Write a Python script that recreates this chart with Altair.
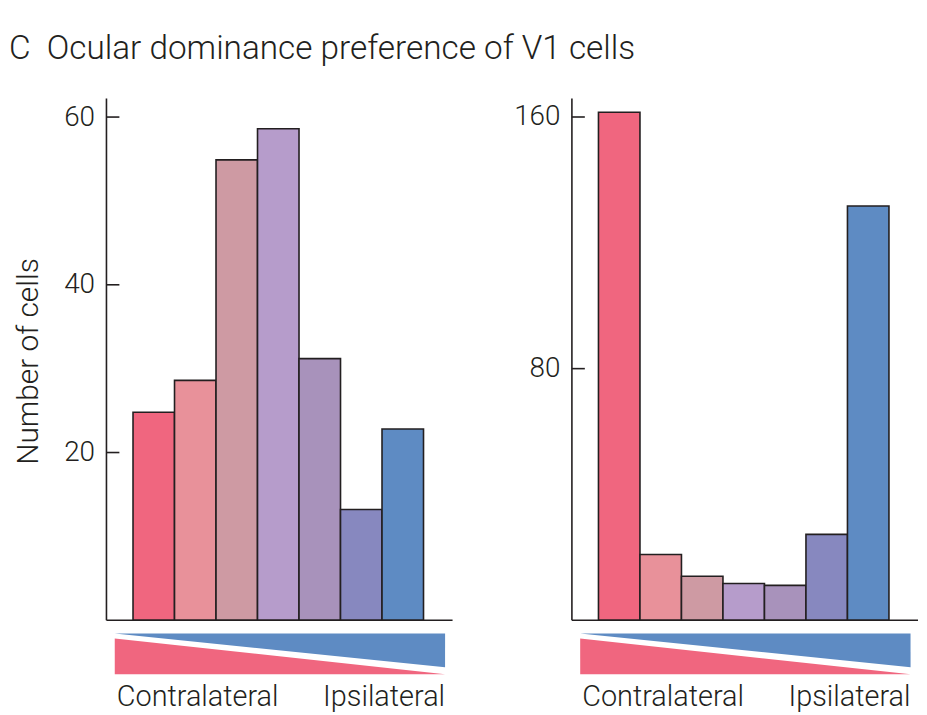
import altair as alt
import pandas as pd

# ---- data ----
bins = [1, 2, 3, 4, 5, 6, 7]
left_counts = [24.8, 28.6, 54.9, 58.6, 31.2, 13.2, 22.8]
right_counts = [161.5, 20.9, 14.0, 11.7, 11.1, 27.3, 131.7]
bar_colors = ["#F0667F", "#E8919A", "#CE9AA3", "#B69CCB", "#A892BB", "#8788BF", "#5E8BC3"]
left_ticks = [20, 40, 60]
right_ticks = [80, 160]
end_labels = ["Contralateral", "Ipsilateral"]
wedge_groups = ["ipsi", "contra"]
wedge_colors = ["#5E8BC3", "#F0667F"]
title_text = "C\u00a0\u00a0Ocular dominance preference of V1 cells"
y_title_text = "Number of cells"

# ---- style / layout ----
FONT = "Roboto"
WEIGHT = 300
INK = "#231F20"
W = 348
H = 615
X_DOMAIN = [-0.64, 7.70]
WEDGE_X = [-0.44, 7.52]
WEDGE_DOMAIN = [-0.878, 14.12]
LEFT_Y = [-10.71, 62.22]
RIGHT_Y = [-28.55, 165.9]


def panel(counts, ticks, y_domain, show_title):
    xs = alt.Scale(domain=X_DOMAIN, nice=False, zero=False)
    ys = alt.Scale(domain=y_domain, nice=False, zero=False)
    ws = alt.Scale(domain=WEDGE_DOMAIN, nice=False, zero=False)

    bars = pd.DataFrame({
        "bin": bins,
        "start": [b - 1 for b in bins],
        "end": bins,
        "count": counts,
        "color": bar_colors,
    })
    axis_kw = dict(
        values=ticks, domain=False, ticks=False, grid=False,
        labelPadding=12, labelFont=FONT, labelFontSize=28,
        labelFontWeight=WEIGHT, labelColor=INK,
    )
    if show_title:
        axis_kw.update(title=y_title_text, titleFont=FONT, titleFontSize=30,
                       titleFontWeight=WEIGHT, titleColor=INK, titlePadding=20,
                       titleY=264)
    else:
        axis_kw.update(title="")

    bar_layer = alt.Chart(bars).mark_rect(stroke=INK, strokeWidth=1.6).encode(
        x=alt.X("start:Q", scale=xs, axis=None),
        x2="end:Q",
        y=alt.Y("count:Q", scale=ys, axis=alt.Axis(**axis_kw)),
        y2=alt.datum(0),
        color=alt.Color("color:N", scale=None),
    )

    zero_df = pd.DataFrame({"z": [0]})
    y_line = alt.Chart(zero_df).mark_rule(color=INK, strokeWidth=1.6).encode(
        x=alt.value(0),
        y=alt.Y("z:Q", scale=ys, axis=None),
        y2=alt.value(0),
    )
    x_line = alt.Chart(zero_df).mark_rule(color=INK, strokeWidth=1.6).encode(
        y=alt.Y("z:Q", scale=ys, axis=None),
        x=alt.value(0),
        x2=alt.value(W),
    )
    tick_df = pd.DataFrame({"t": ticks})
    tick_layer = alt.Chart(tick_df).mark_rule(color=INK, strokeWidth=1.6).encode(
        y=alt.Y("t:Q", scale=ys, axis=None),
        x=alt.value(0),
        x2=alt.value(13),
    )

    # wedges: blue (ipsilateral) grows to the right, pink (contralateral) to the left
    wedge_df = pd.DataFrame({
        "g": [wedge_groups[0], wedge_groups[0], wedge_groups[1], wedge_groups[1]],
        "x": [WEDGE_X[0], WEDGE_X[1], WEDGE_X[0], WEDGE_X[1]],
        "lo": [1.0, 0.17, 0.0, 0.0],
        "hi": [1.0, 1.0, 0.878, 0.0],
        "color": [wedge_colors[0], wedge_colors[0], wedge_colors[1], wedge_colors[1]],
    })
    wedge = alt.Chart(wedge_df).mark_area(opacity=1, interpolate="linear").encode(
        x=alt.X("x:Q", scale=xs, axis=None),
        y=alt.Y("lo:Q", scale=ws, axis=None),
        y2="hi:Q",
        color=alt.Color("color:N", scale=None),
        detail="g:N",
    )

    lab_df = pd.DataFrame({"label": end_labels, "x": WEDGE_X, "y": [-0.78, -0.78]})
    text_kw = dict(font=FONT, fontSize=29, fontWeight=WEIGHT, color=INK, baseline="alphabetic")
    lab_left = alt.Chart(lab_df).transform_filter(
        alt.datum.label == end_labels[0]
    ).mark_text(align="left", dx=2, **text_kw).encode(
        x=alt.X("x:Q", scale=xs, axis=None),
        y=alt.Y("y:Q", scale=ws, axis=None),
        text="label:N",
    )
    lab_right = alt.Chart(lab_df).transform_filter(
        alt.datum.label == end_labels[1]
    ).mark_text(align="right", **text_kw).encode(
        x=alt.X("x:Q", scale=xs, axis=None),
        y=alt.Y("y:Q", scale=ws, axis=None),
        text="label:N",
    )

    return alt.layer(
        bar_layer, y_line, x_line, tick_layer, wedge, lab_left, lab_right
    ).resolve_scale(y="independent").properties(width=W, height=H)


left = panel(left_counts, left_ticks, LEFT_Y, True)
right = panel(right_counts, right_ticks, RIGHT_Y, False)

chart = alt.hconcat(left, right, spacing=60).properties(
    title=alt.TitleParams(
        title_text, anchor="start", font=FONT, fontSize=33.5, fontWeight=WEIGHT,
        color=INK, offset=31, dx=-5,
    ),
    padding={"left": 0, "top": 22, "right": 0, "bottom": 0},
).configure_view(stroke=None)

chart.save("out.html", embed_options={"renderer": "svg", "actions": False})
